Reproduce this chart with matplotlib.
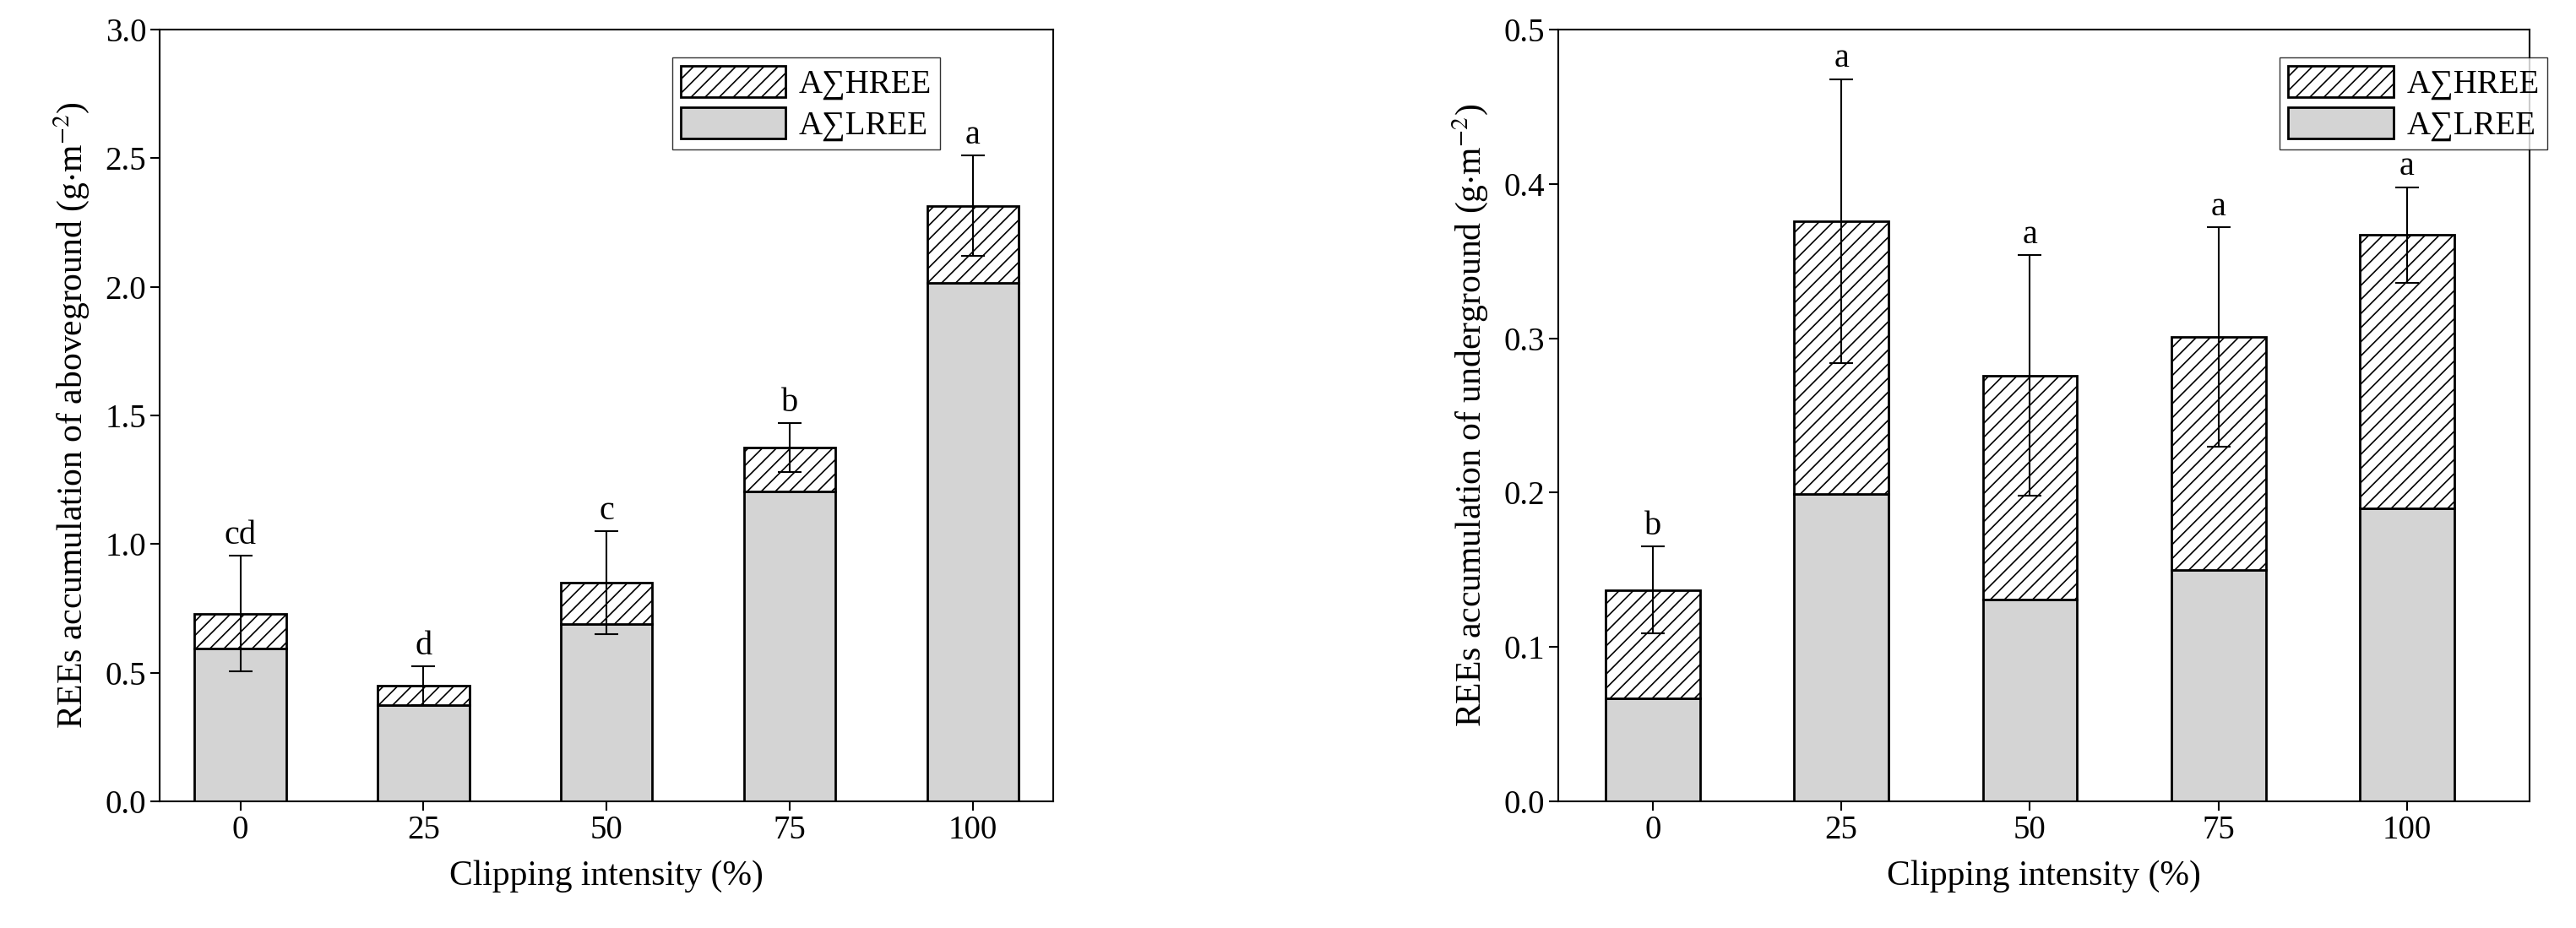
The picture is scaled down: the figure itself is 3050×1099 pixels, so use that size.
import matplotlib
matplotlib.use("Agg")
import matplotlib.pyplot as plt
import numpy as np

plt.rcParams['font.family'] = ['Liberation Serif', 'DejaVu Serif']
plt.rcParams['hatch.linewidth'] = 1.2
plt.rcParams['mathtext.fontset'] = 'stix'

categories = ['0', '25', '50', '75', '100']
above_lree = [0.595, 0.375, 0.69, 1.205, 2.015]
above_total = [0.73, 0.45, 0.85, 1.375, 2.315]
above_err = [0.225, 0.075, 0.2, 0.095, 0.195]
above_letters = ['cd', 'd', 'c', 'b', 'a']
under_lree = [0.067, 0.199, 0.131, 0.150, 0.190]
under_total = [0.137, 0.376, 0.276, 0.301, 0.367]
under_err = [0.028, 0.092, 0.078, 0.071, 0.031]
under_letters = ['b', 'a', 'a', 'a', 'a']

fig = plt.figure(figsize=(30.5, 10.99), dpi=100)
ax1 = fig.add_axes([0.062, 0.1365, 0.347, 0.8315])
ax2 = fig.add_axes([0.605, 0.1365, 0.377, 0.8315])

def draw(ax, lree, total, err, letters, ylim, yticks, ylabel, xlim, legx, fmt):
    x = np.arange(len(categories))
    hree = [t - l for t, l in zip(total, lree)]
    b1 = ax.bar(x, lree, 0.5, color='#d4d4d4', edgecolor='black', linewidth=2, label='A∑LREE')
    b2 = ax.bar(x, hree, 0.5, bottom=lree, color='white', edgecolor='black', linewidth=2, hatch='//', label='A∑HREE')
    ax.errorbar(x, total, yerr=err, fmt='none', ecolor='black', elinewidth=1.5, capsize=10, capthick=1.5)
    span = ylim[1] - ylim[0]
    for xi, t, e, s in zip(x, total, err, letters):
        ax.text(xi, t + e + 0.006 * span, s, ha='center', va='bottom', fontsize=29)
    ax.set_xlim(*xlim)
    ax.set_ylim(*ylim)
    ax.set_xticks(x)
    ax.set_xticklabels(categories)
    ax.set_yticks(yticks)
    ax.set_yticklabels([fmt.format(v) for v in yticks])
    ax.tick_params(labelsize=28, width=1.5, length=8, direction='out')
    for sp in ax.spines.values():
        sp.set_linewidth(1.5)
    ax.set_xlabel('Clipping intensity (%)', fontsize=30, labelpad=12)
    ax.set_ylabel(ylabel, fontsize=30, labelpad=12)
    ax.legend(handles=[b2, b1], loc='upper left', bbox_to_anchor=(legx, 0.985), fontsize=28,
              frameon=True, fancybox=False, edgecolor='black', handlelength=3.2, handleheight=1.1,
              borderpad=0.25, labelspacing=0.2, handletextpad=0.4)

draw(ax1, above_lree, above_total, above_err, above_letters, (0, 3.0), np.arange(0, 3.01, 0.5),
     r'REEs accumulation of aboveground (g$\cdot$m$^{-2}$)', (-0.44, 4.44), 0.555, '{:.1f}')
draw(ax2, under_lree, under_total, under_err, under_letters, (0, 0.5), np.arange(0, 0.51, 0.1),
     r'REEs accumulation of underground (g$\cdot$m$^{-2}$)', (-0.5, 4.65), 0.726, '{:.1f}')

fig.savefig('out.png', dpi=100)
